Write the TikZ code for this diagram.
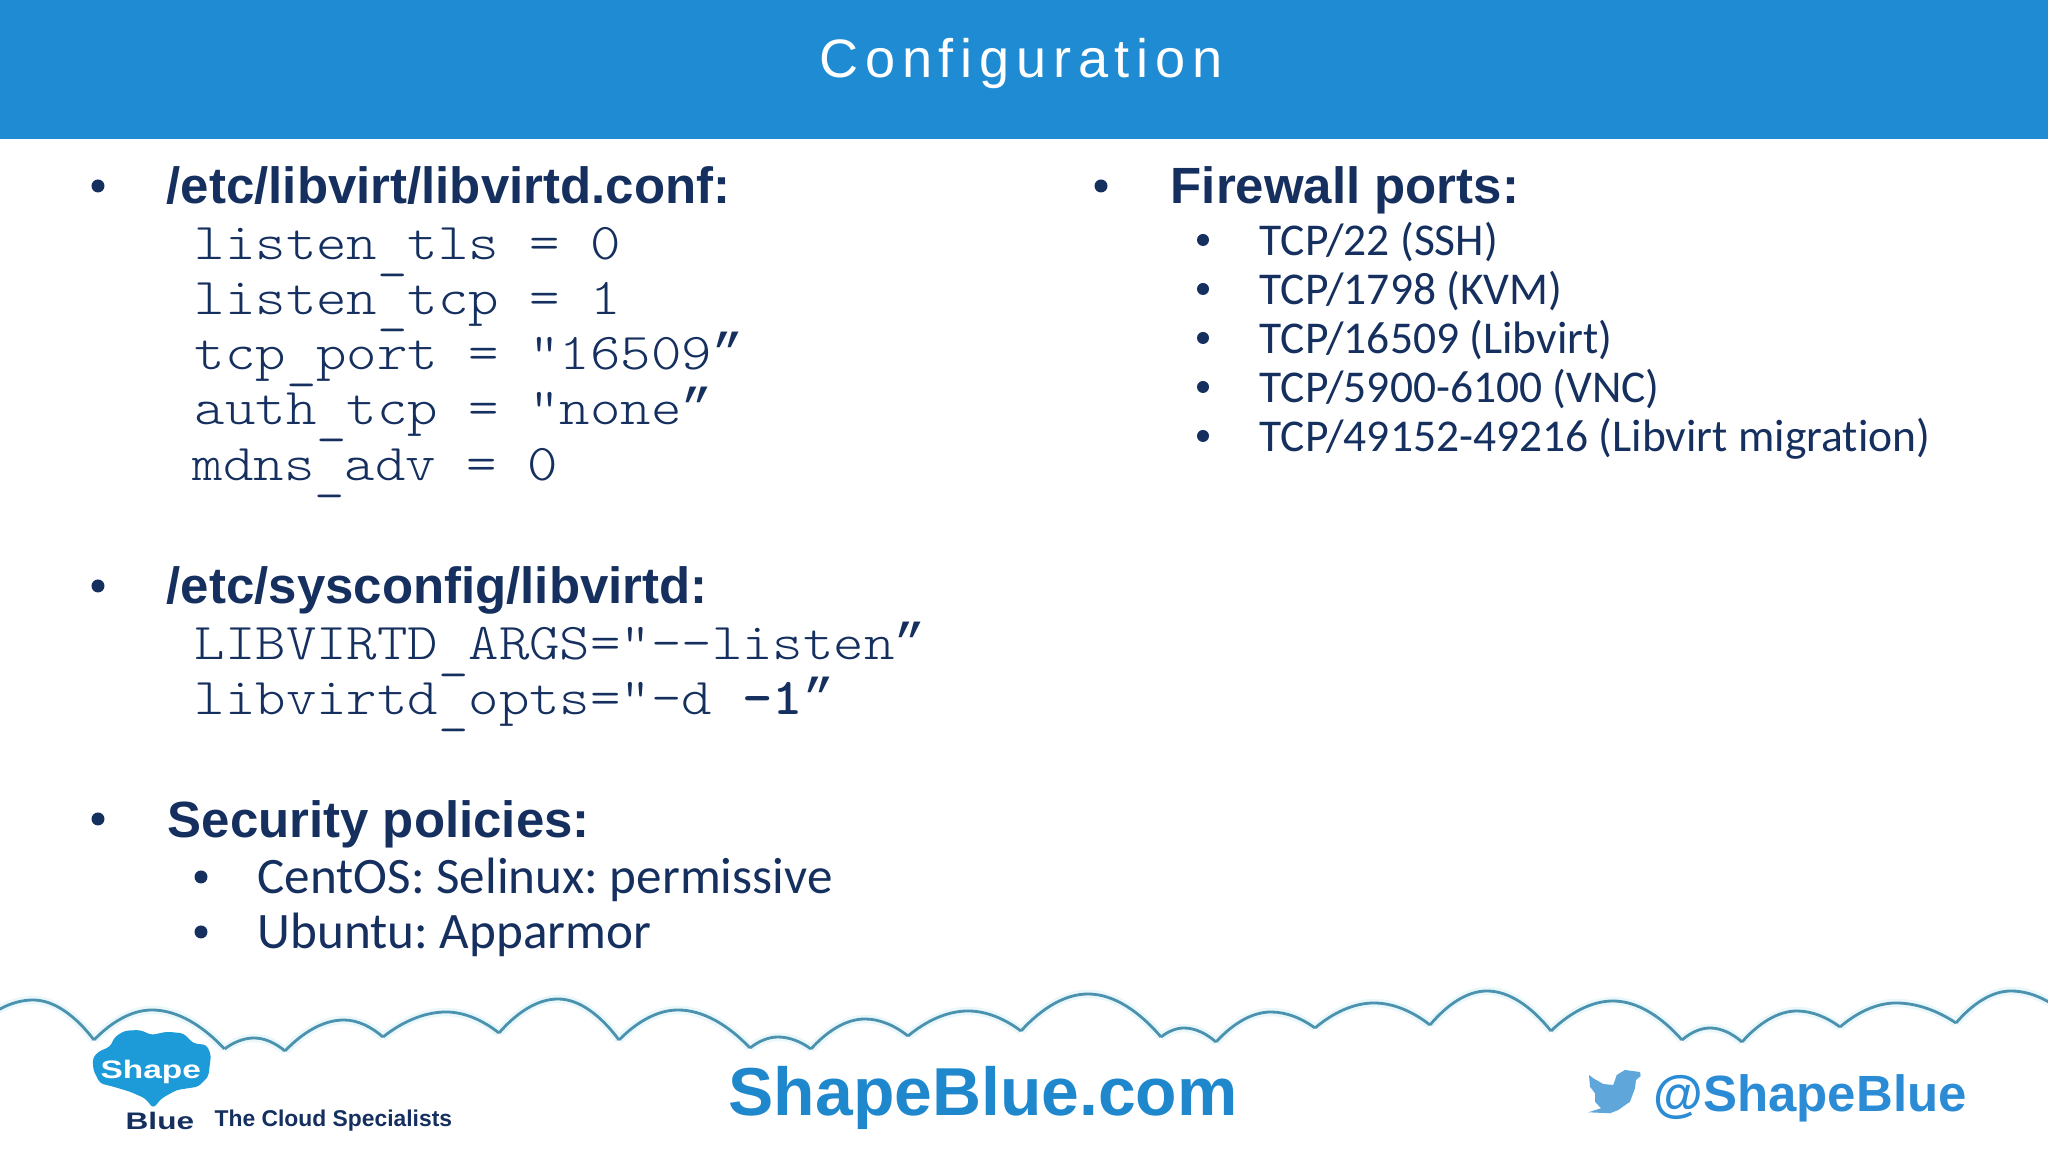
\documentclass[tikz,border=0pt]{standalone}
\usepackage{fontspec}
\setmainfont[Ligatures=NoCommon]{Carlito}
\setsansfont{Liberation Sans}
\setmonofont[FakeStretch=1.122]{Latin Modern Mono Light}
\newfontfamily\titlefont[LetterSpace=12.5]{Liberation Sans}
\newfontfamily\logofont[FakeStretch=1.32]{Liberation Sans}
\newfontfamily\quotefont{Liberation Mono}
\usepackage{tikz}
\frenchspacing

\definecolor{barblue}{HTML}{1E8BD2}
\definecolor{navytext}{HTML}{152F5F}
\definecolor{linkblue}{HTML}{1F87CC}
\definecolor{handleblue}{HTML}{2B8CD5}
\definecolor{birdblue}{HTML}{5FA6DB}
\definecolor{logoblue}{HTML}{1D9BD8}
\definecolor{cloudline}{HTML}{4B92AE}
\definecolor{cloudglow}{HTML}{EAF7FB}

\newcommand{\lowbar}{\raisebox{-0.14em}[0pt][0pt]{\_}}
\newcommand{\closeq}{{\quotefont ”}}

\tikzset{
    heading/.style={anchor=base west, inner sep=0, text=navytext, font=\sffamily\bfseries\fontsize{14.5pt}{14.5pt}\selectfont},
    conf/.style={anchor=base west, inner sep=0, text=navytext, font=\ttfamily\fontsize{14.7pt}{14.7pt}\selectfont},
    item/.style={anchor=base west, inner sep=0, text=navytext, font=\fontsize{14.55pt}{14.55pt}\selectfont},
    port/.style={anchor=base west, inner sep=0, text=navytext, font=\fontsize{12.95pt}{12.95pt}\selectfont},
    dot/.style={circle, fill=navytext, inner sep=0, minimum size=#1}
}

\begin{document}
\begin{tikzpicture}
    \useasboundingbox (0, 0) rectangle (20.48, 11.52);

    % Title bar
    \fill[barblue] (0, 10.13) rectangle (20.48, 11.52);
    \node[anchor=base, inner sep=0, text=white, font=\titlefont\fontsize{15.4pt}{15.4pt}\selectfont] (title) at (10.21, 10.74) {Configuration};

    % Left column
    \node[dot=0.13cm] (dotconf) at (0.98, 9.66) {};
    \node[heading] (conf) at (1.66, 9.48) {/etc/libvirt/libvirtd.conf:};
    \node[conf] (tls) at (1.94, 8.92) {listen\lowbar tls = 0};
    \node[conf] (tcp) at (1.94, 8.37) {listen\lowbar tcp = 1};
    \node[conf] (tport) at (1.94, 7.82) {tcp\lowbar port = "16509\closeq};
    \node[conf] (auth) at (1.94, 7.27) {auth\lowbar tcp = "none\closeq};
    \node[conf] (mdns) at (1.92, 6.71) {mdns\lowbar adv = 0};

    \node[dot=0.13cm] (dotsys) at (0.98, 5.66) {};
    \node[heading] (sys) at (1.66, 5.48) {/etc/sysconfig/libvirtd:};
    \node[conf] (args) at (1.94, 4.92) {LIBVIRTD\lowbar ARGS="--listen\closeq};
    \node[conf] (opts) at (1.94, 4.37) {libvirtd\lowbar opts="-d \textbf{-1}\closeq};

    \node[dot=0.13cm] (dotsec) at (0.98, 3.33) {};
    \node[heading] (sec) at (1.67, 3.14) {Security policies:};
    \node[dot=0.13cm] (dotcent) at (2.01, 2.75) {};
    \node[item] (cent) at (2.57, 2.58) {CentOS: Selinux: permissive};
    \node[dot=0.13cm] (dotubu) at (2.01, 2.20) {};
    \node[item] (ubu) at (2.57, 2.03) {Ubuntu: Apparmor};

    % Right column
    \node[dot=0.13cm] (dotfw) at (11.01, 9.66) {};
    \node[heading] (fw) at (11.70, 9.48) {Firewall ports:};
    \foreach \nm/\yy/\txt in {ssh/8.96/{TCP/22 (SSH)}, kvm/8.47/{TCP/1798 (KVM)}, lib/7.98/{TCP/16509 (Libvirt)}, vnc/7.49/{TCP/5900-6100 (VNC)}, mig/7.00/{TCP/49152-49216 (Libvirt migration)}}
    {
        \node[dot=0.12cm] (dot\nm) at (12.03, \yy+0.16) {};
        \node[port] (\nm) at (12.59, \yy) {\txt};
    }

    % Cloud outline along the bottom
    \foreach \ww/\cc in {2.4pt/cloudglow, 0.8pt/cloudline}
    {
        \foreach \px/\py/\bx/\by [remember=\bx as \ax (initially -0.30), remember=\by as \ay (initially 1.20)] in {
            0.33/1.52/0.94/1.12, 1.52/1.42/2.245/1.03, 2.54/1.14/2.85/1.01, 3.44/1.32/3.83/1.15,
            4.46/1.40/4.99/1.19, 5.58/1.53/6.19/1.12, 6.78/1.42/7.50/1.04, 7.78/1.15/8.11/1.03,
            8.65/1.33/9.08/1.16, 9.68/1.41/10.21/1.21, 10.88/1.58/11.61/1.15, 11.84/1.24/12.16/1.10,
            12.71/1.40/13.15/1.24, 13.74/1.49/14.30/1.27, 14.87/1.61/15.51/1.21, 16.13/1.51/16.82/1.12,
            17.10/1.24/17.42/1.10, 17.97/1.41/18.40/1.25, 18.96/1.49/19.56/1.29, 20.11/1.61/20.80/1.25}
        {
            \draw[\cc, line width=\ww] (\ax, \ay)
                .. controls ({\ax+0.3*(\px-\ax)}, {\ay+0.6*(\py-\ay)}) and ({\px-0.35*(\px-\ax)}, \py) .. (\px, \py)
                .. controls ({\px+0.35*(\bx-\px)}, \py) and ({\bx-0.3*(\bx-\px)}, {\by+0.6*(\py-\by)}) .. (\bx, \by);
        }
    }

    % Logo
    \fill[logoblue, rounded corners=1pt] (1.533, 0.437) -- (1.45, 0.537) -- (1.30, 0.603) -- (1.133, 0.653)
        -- (1.00, 0.687) -- (0.933, 0.82) -- (0.927, 0.937) -- (0.983, 1.003) -- (1.10, 1.053)
        -- (1.15, 1.153) -- (1.25, 1.213) -- (1.40, 1.22) -- (1.517, 1.17) -- (1.667, 1.203)
        -- (1.833, 1.187) -- (1.933, 1.087) -- (2.067, 1.07) -- (2.11, 0.97) -- (2.083, 0.753)
        -- (1.983, 0.653) -- (1.767, 0.62) -- (1.617, 0.537) -- cycle;
    \node[anchor=base west, inner sep=0, text=white, font=\logofont\bfseries\fontsize{7.2pt}{7.2pt}\selectfont] (logoshape) at (1.00, 0.737) {Shape};
    \node[anchor=base west, inner sep=0, text=navytext, font=\logofont\bfseries\fontsize{6.8pt}{6.8pt}\selectfont] (logoblue) at (1.25, 0.22) {Blue};
    \node[anchor=base west, inner sep=0, text=navytext, font=\sffamily\bfseries\fontsize{6.5pt}{6.5pt}\selectfont] (tagline) at (2.14, 0.25) {The Cloud Specialists};

    % Web address and handle
    \node[anchor=base west, inner sep=0, text=linkblue, font=\sffamily\bfseries\fontsize{19.3pt}{19.3pt}\selectfont] (web) at (7.28, 0.36) {ShapeBlue.com};
    \fill[birdblue] (15.883, 0.397) -- (16.10, 0.387) -- (16.183, 0.42) -- (16.30, 0.503) -- (16.35, 0.637)
        -- (16.36, 0.72) -- (16.407, 0.76) -- (16.40, 0.80) -- (16.25, 0.82) -- (16.167, 0.77) -- (16.133, 0.67)
        -- (16.033, 0.68) -- (15.933, 0.737) -- (15.89, 0.77) -- (15.90, 0.653) -- (15.95, 0.587)
        -- (15.95, 0.503) -- (16.01, 0.437) -- cycle;
    \node[anchor=base west, inner sep=0, text=handleblue, font=\sffamily\bfseries\fontsize{14.5pt}{14.5pt}\selectfont] (handle) at (16.53, 0.40) {@ShapeBlue};
\end{tikzpicture}
\end{document}
